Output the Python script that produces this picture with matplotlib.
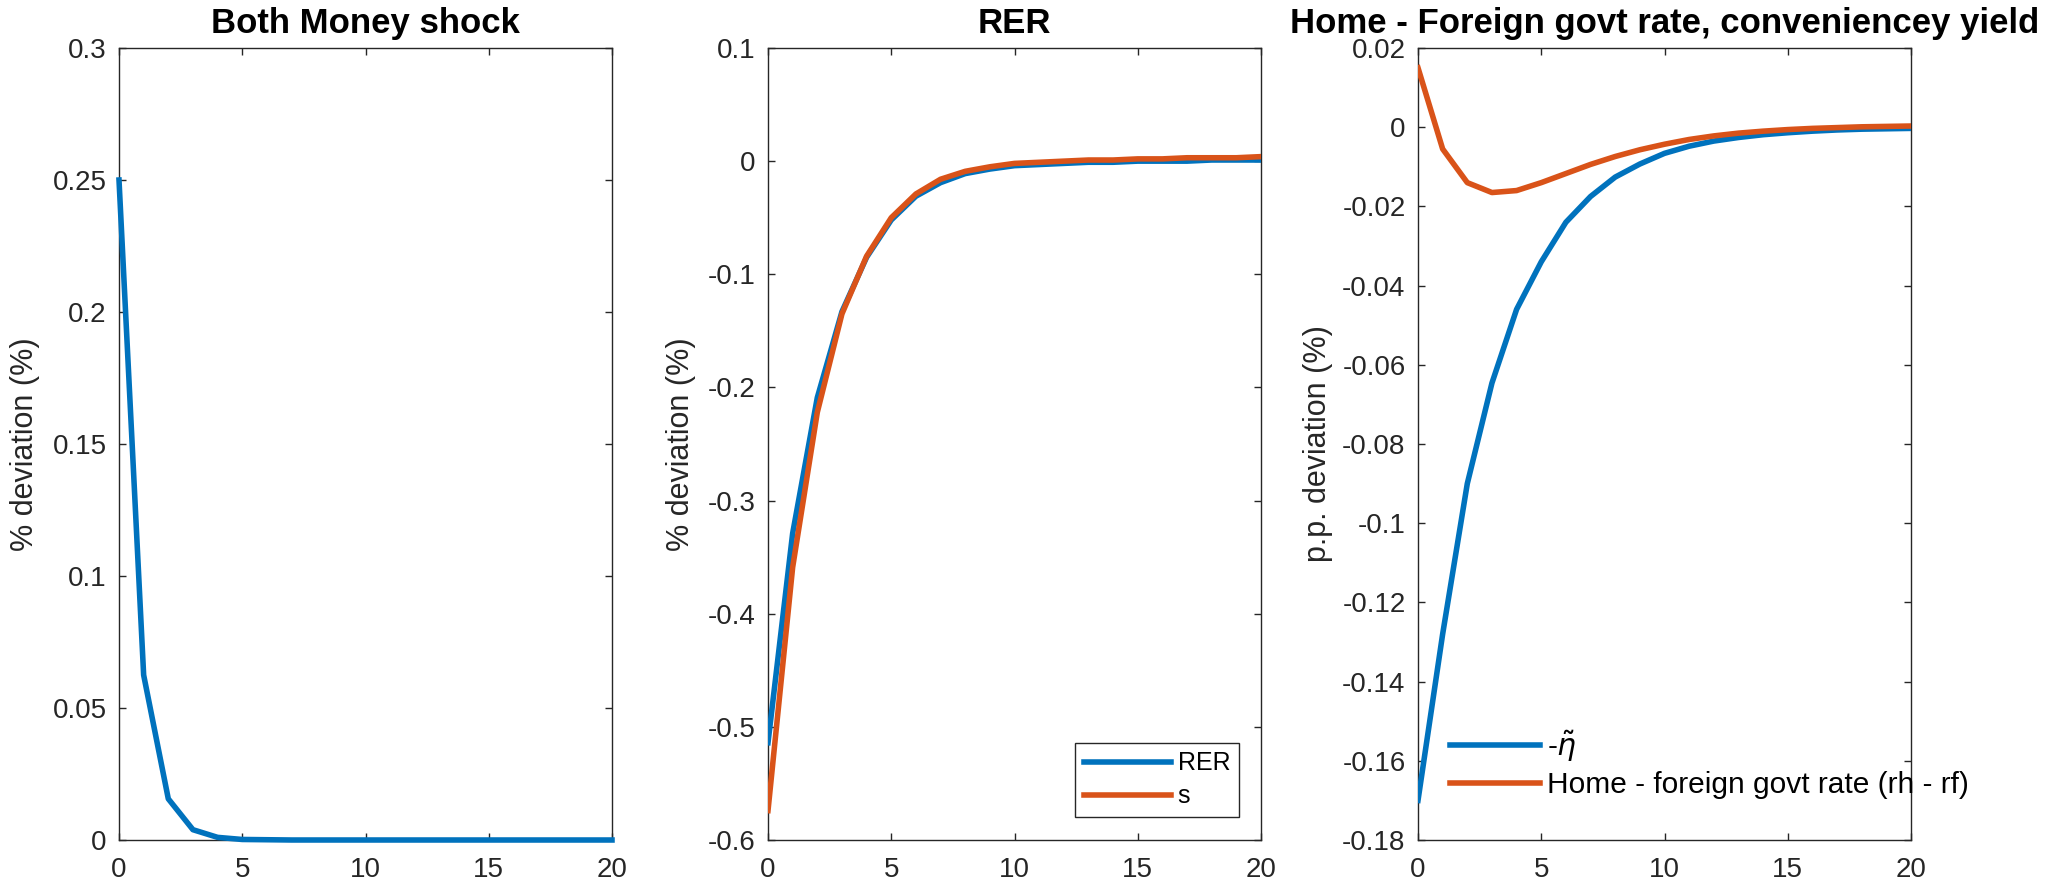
import matplotlib

matplotlib.use("Agg")
import matplotlib.pyplot as plt

plt.rcParams["font.family"] = ["Liberation Sans", "DejaVu Sans"]
plt.rcParams["axes.unicode_minus"] = False

W, H = 2069, 886
BLUE = "#0072BD"
ORANGE = "#D95319"
DARK = "#262626"
LW = 4.0

periods = list(range(21))

money_shock = [0.25, 0.0625, 0.0156, 0.0039, 0.0010, 0.0002, 0.0001, 0, 0, 0,
               0, 0, 0, 0, 0, 0, 0, 0, 0, 0, 0]

rer = [-0.514, -0.329, -0.209, -0.133, -0.085, -0.052, -0.031, -0.019, -0.011,
       -0.007, -0.004, -0.003, -0.002, -0.001, -0.001, 0.000, 0.000, 0.000,
       0.001, 0.001, 0.001]
s_rate = [-0.574, -0.359, -0.222, -0.135, -0.084, -0.050, -0.029, -0.016,
          -0.009, -0.005, -0.002, -0.001, 0.000, 0.001, 0.001, 0.002, 0.002,
          0.003, 0.003, 0.003, 0.004]

neg_eta = [-0.170, -0.128, -0.090, -0.0646, -0.046, -0.034, -0.024, -0.0175,
           -0.0126, -0.0093, -0.0066, -0.0048, -0.0035, -0.0026, -0.0019,
           -0.0014, -0.0010, -0.0007, -0.0005, -0.0004, -0.0003]
rh_rf = [0.015, -0.0055, -0.014, -0.0165, -0.016, -0.014, -0.0117, -0.0094,
         -0.0074, -0.0057, -0.0043, -0.0031, -0.0022, -0.0015, -0.0010,
         -0.0006, -0.0003, -0.0001, 0.0001, 0.0002, 0.0003]

x_ticks = [0, 5, 10, 15, 20]
x_labels = ["0", "5", "10", "15", "20"]
y1_ticks = [0, 0.05, 0.1, 0.15, 0.2, 0.25, 0.3]
y1_labels = ["0", "0.05", "0.1", "0.15", "0.2", "0.25", "0.3"]
y2_ticks = [-0.6, -0.5, -0.4, -0.3, -0.2, -0.1, 0, 0.1]
y2_labels = ["-0.6", "-0.5", "-0.4", "-0.3", "-0.2", "-0.1", "0", "0.1"]
y3_ticks = [-0.18, -0.16, -0.14, -0.12, -0.1, -0.08, -0.06, -0.04, -0.02, 0, 0.02]
y3_labels = ["-0.18", "-0.16", "-0.14", "-0.12", "-0.1", "-0.08", "-0.06",
             "-0.04", "-0.02", "0", "0.02"]

fig = plt.figure(figsize=(W / 100, H / 100), dpi=100)


def make_axes(left_px, title, ylabel, yticks, ylabels, label_off):
    top, bottom = 48, 840
    ax = fig.add_axes([left_px / W, (H - bottom) / H, 493 / W, (bottom - top) / H])
    ax.set_xlim(0, 20)
    ax.set_ylim(yticks[0], yticks[-1])
    ax.set_xticks(x_ticks)
    ax.set_xticklabels(x_labels)
    ax.set_yticks(yticks)
    ax.set_yticklabels(ylabels)
    ax.tick_params(direction="in", length=5, width=1, colors=DARK,
                   labelsize=20, top=True, right=True)
    ax.tick_params(axis="x", pad=12)
    ax.tick_params(axis="y", pad=9)
    for sp in ax.spines.values():
        sp.set_color(DARK)
        sp.set_linewidth(1.0)
    ax.set_title(title, fontsize=25, fontweight="bold", pad=11)
    ax.set_ylabel(ylabel, fontsize=22, color=DARK)
    ax.yaxis.set_label_coords(label_off / 493, 0.5)
    return ax


ax1 = make_axes(119, "Both Money shock", "% deviation (%)", y1_ticks, y1_labels, -79)
ax1.plot(periods, money_shock, color=BLUE, lw=LW, clip_on=False, zorder=3)

ax2 = make_axes(768, "RER", "% deviation (%)", y2_ticks, y2_labels, -72)
ax2.plot(periods, rer, color=BLUE, lw=LW, label="RER", zorder=3)
ax2.plot(periods, s_rate, color=ORANGE, lw=LW, label="s", zorder=3)
leg2 = ax2.legend(loc="lower right", bbox_to_anchor=(1239 / W, (H - 817) / H),
                  bbox_transform=fig.transFigure, fontsize=18, fancybox=False,
                  framealpha=1, edgecolor=DARK, borderaxespad=0, borderpad=0.35,
                  handlelength=3.5, handletextpad=0.25, labelspacing=0.35)
leg2.get_frame().set_linewidth(1.0)

ax3 = make_axes(1418, "Home - Foreign govt rate, conveniencey yield",
                "p.p. deviation (%)", y3_ticks, y3_labels, -85)
ax3.plot(periods, neg_eta, color=BLUE, lw=LW, label=r"-$\tilde{\eta}$", zorder=3)
ax3.plot(periods, rh_rf, color=ORANGE, lw=LW,
         label="Home - foreign govt rate (rh - rf)", zorder=3)
ax3.legend(loc="center left", bbox_to_anchor=(1450 / W, (H - 764) / H),
           bbox_transform=fig.transFigure, fontsize=21.5, frameon=False,
           borderaxespad=0, borderpad=0, handlelength=3.0, handletextpad=0.25,
           labelspacing=0.25)

fig.savefig("out.png", dpi=100)
